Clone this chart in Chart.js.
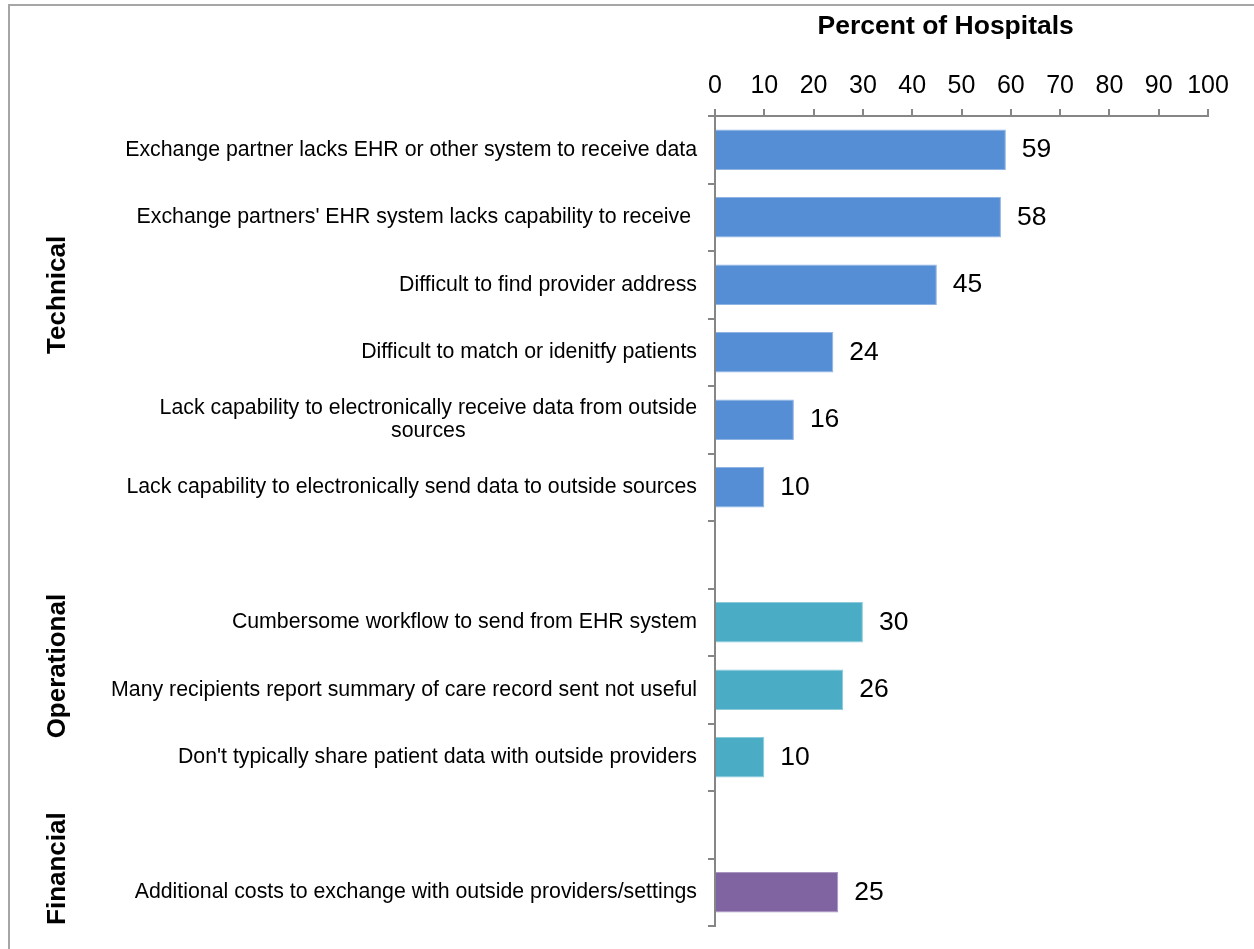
<!DOCTYPE html>
<html>
<head>
<meta charset="utf-8">
<title>Barriers to electronic exchange</title>
<script src="https://cdn.jsdelivr.net/npm/chart.js@4/dist/chart.umd.min.js"></script>
<style>
  html, body { margin: 0; padding: 0; background: #fff; }
  #wrap { width: 1254px; height: 949px; }
</style>
</head>
<body>
<div id="wrap"><canvas id="chart" width="1254" height="949"></canvas></div>
<script>
// Barrier categories, top to bottom (empty entries separate the groups)
const categories = [
  'Exchange partner lacks EHR or other system to receive data',
  "Exchange partners' EHR system lacks capability to receive ",
  'Difficult to find provider address',
  'Difficult to match or idenitfy patients',
  ['Lack capability to electronically receive data from outside', 'sources'],
  'Lack capability to electronically send data to outside sources',
  '',
  'Cumbersome workflow to send from EHR system',
  'Many recipients report summary of care record sent not useful',
  "Don't typically share patient data with outside providers",
  '',
  'Additional costs to exchange with outside providers/settings'
];

// Percent of hospitals reporting each barrier
const values = [59, 58, 45, 24, 16, 10, null, 30, 26, 10, null, 25];

// Group membership of each row (index into groups)
const rowGroup = [0, 0, 0, 0, 0, 0, null, 1, 1, 1, null, 2];
const groups = ['Technical', 'Operational', 'Financial'];
const groupColors = ['#558ED5', '#4BACC6', '#8064A2'];
const groupEdges = ['#8FB4E3', '#8CCBDC', '#A896C0'];

// Value axis
const xTickValues = [0, 10, 20, 30, 40, 50, 60, 70, 80, 90, 100];
const axisTitle = 'Percent of Hospitals';

const FONT = '"Liberation Sans", Arial, Helvetica, sans-serif';
const AXIS_GRAY = '#868686';

const framePlugin = {
  id: 'frame',
  beforeDraw(chart) {
    const ctx = chart.ctx;
    ctx.save();
    ctx.fillStyle = '#ffffff';
    ctx.fillRect(0, 0, chart.width, chart.height);
    ctx.strokeStyle = '#a6a6a6';
    ctx.lineWidth = 2;
    ctx.beginPath();
    ctx.moveTo(9, chart.height);
    ctx.lineTo(9, 5);
    ctx.lineTo(chart.width, 5);
    ctx.stroke();
    ctx.restore();
  }
};

const labelsPlugin = {
  id: 'rowLabels',
  afterDraw(chart) {
    const ctx = chart.ctx;
    const y = chart.scales.y;
    const area = chart.chartArea;
    const right = area.left - 18;
    ctx.save();
    ctx.fillStyle = '#000';
    ctx.textBaseline = 'middle';

    // category labels
    ctx.font = '21.3px ' + FONT;
    categories.forEach((cat, i) => {
      const lines = Array.isArray(cat) ? cat : [cat];
      const py = y.getPixelForValue(i);
      const lh = 23;
      if (lines.length === 1) {
        ctx.textAlign = 'right';
        ctx.fillText(lines[0], right, py);
      } else {
        const w = Math.max(...lines.map(l => ctx.measureText(l).width));
        ctx.textAlign = 'center';
        const top = py - (lines.length - 1) * lh / 2;
        lines.forEach((l, k) => ctx.fillText(l, right - w / 2, top + k * lh));
      }
    });

    // value labels beside bars
    ctx.font = '26.5px ' + FONT;
    ctx.textAlign = 'left';
    const meta = chart.getDatasetMeta(0);
    meta.data.forEach((el, i) => {
      if (values[i] == null) return;
      ctx.fillText(String(values[i]), el.x + 16, el.y);
    });

    // group labels, rotated
    ctx.font = 'bold 26px ' + FONT;
    ctx.textAlign = 'center';
    const rowH = y.getPixelForValue(1) - y.getPixelForValue(0);
    groups.forEach((g, gi) => {
      const rows = rowGroup.map((r, i) => r === gi ? i : -1).filter(i => i >= 0);
      const mid = (y.getPixelForValue(rows[0]) + y.getPixelForValue(rows[rows.length - 1])) / 2 - rowH * 0.35;
      ctx.save();
      ctx.translate(58, mid);
      ctx.rotate(-Math.PI / 2);
      ctx.fillText(g, 0, 0);
      ctx.restore();
    });

    // axis title above the value axis
    ctx.font = 'bold 26.5px ' + FONT;
    ctx.textAlign = 'center';
    ctx.fillText(axisTitle, area.left + area.width * 0.468, 27);
    ctx.restore();
  }
};

new Chart(document.getElementById('chart'), {
  type: 'bar',
  data: {
    labels: categories,
    datasets: [{
      data: values,
      backgroundColor: rowGroup.map(g => g == null ? 'transparent' : groupColors[g]),
      borderColor: rowGroup.map(g => g == null ? 'transparent' : groupEdges[g]),
      borderWidth: 1,
      categoryPercentage: 1,
      barPercentage: 0.6
    }]
  },
  options: {
    indexAxis: 'y',
    responsive: false,
    animation: false,
    devicePixelRatio: 1,
    layout: { padding: { left: 0, right: 46, top: 0, bottom: 23 } },
    plugins: { legend: { display: false }, tooltip: { enabled: false } },
    scales: {
      x: {
        position: 'top',
        min: 0,
        max: 100,
        afterFit(s) { s.height = 116; },
        afterBuildTicks(s) { s.ticks = xTickValues.map(v => ({ value: v })); },
        ticks: { font: { size: 25, family: FONT }, color: '#000', padding: 8, maxRotation: 0 },
        grid: { drawOnChartArea: false, tickLength: 7, color: AXIS_GRAY, lineWidth: 2 },
        border: { color: AXIS_GRAY, width: 2 }
      },
      y: {
        afterFit(s) { s.width = 715; },
        ticks: { display: false },
        grid: { drawOnChartArea: false, tickLength: 7, color: AXIS_GRAY, lineWidth: 2, offset: true },
        border: { color: AXIS_GRAY, width: 2 }
      }
    }
  },
  plugins: [framePlugin, labelsPlugin]
});
</script>
</body>
</html>
